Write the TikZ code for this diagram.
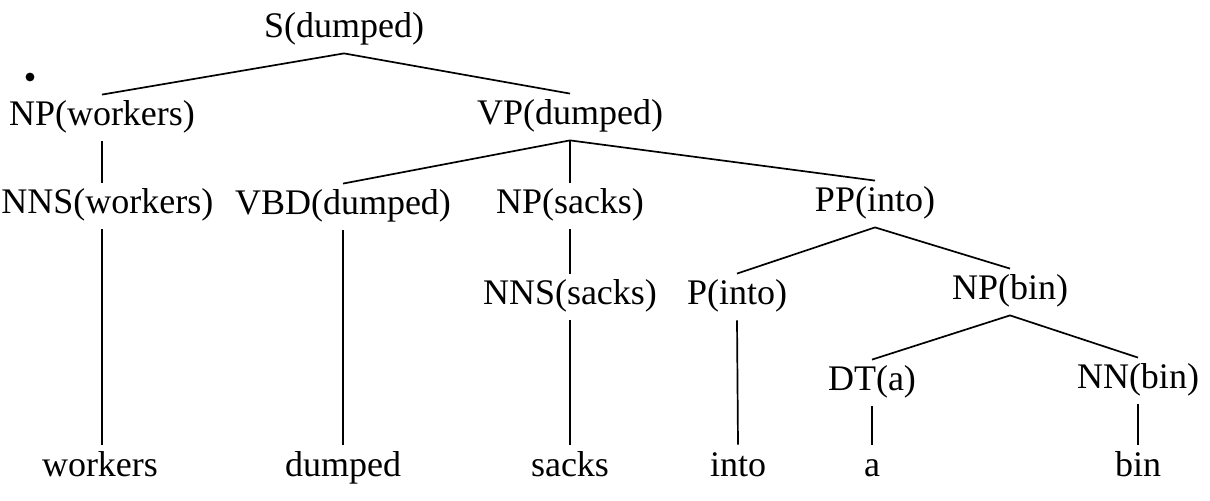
\documentclass[tikz,border=0pt]{standalone}
\usepackage{fontspec}
\setmainfont{Liberation Serif}
\usetikzlibrary{positioning}

\begin{document}
\begin{tikzpicture}[
    x=0.5pt, y=-0.5pt,
    lbl/.style={inner sep=0pt, anchor=base, font=\fontsize{18}{21}\selectfont, text height=15.5pt, text depth=7.5pt},
    word/.style={lbl, text height=16pt, text depth=0pt},
    br/.style={line width=0.85pt}
]
    \useasboundingbox (0,0) rectangle (1210,501);

    % stray dot of the scan
    \fill (30,77) circle (2.2pt);

    \node[lbl] (s) at (344,38) {S(dumped)};
    \node[lbl] (npw) at (102,126) {NP(workers)};
    \node[lbl] (vp) at (570,125) {VP(dumped)};
    \node[lbl, anchor=base west] (nnsw) at (1,214) {NNS(workers)};
    \node[lbl] (vbd) at (343,215) {VBD(dumped)};
    \node[lbl] (nps) at (570,214) {NP(sacks)};
    \node[lbl] (pp) at (875,212) {PP(into)};
    \node[lbl] (nnss) at (570,305) {NNS(sacks)};
    \node[lbl] (pin) at (737,305) {P(into)};
    \node[lbl] (npb) at (1010,300) {NP(bin)};
    \node[lbl] (dt) at (872,391) {DT(a)};
    \node[lbl] (nn) at (1138,389) {NN(bin)};

    \node[word] (wworkers) at (100,477) {workers};
    \node[word] (wdumped) at (343,477) {dumped};
    \node[word] (wsacks) at (570,477) {sacks};
    \node[word] (winto) at (738,477) {into};
    \node[word] (wa) at (872,477) {a};
    \node[word] (wbin) at (1138,477) {bin};

    \draw[br] (s.south) -- (npw.north);
    \draw[br] (s.south) -- (vp.north);
    \draw[br] (npw.south) -- (nnsw.north -| npw.south);
    \draw[br] (nnsw.south -| npw.south) -- (wworkers.north -| npw.south);
    \draw[br] (vp.south) -- (vbd.north);
    \draw[br] (vp.south) -- (nps.north);
    \draw[br] (vp.south) -- (pp.north);
    \draw[br] (vbd.south) -- (wdumped.north);
    \draw[br] (nps.south) -- (nnss.north);
    \draw[br] (nnss.south) -- (wsacks.north);
    \draw[br] (pp.south) -- (pin.north);
    \draw[br] (pp.south) -- (npb.north);
    \draw[br] (pin.south) -- (winto.north);
    \draw[br] (npb.south) -- (dt.north);
    \draw[br] (npb.south) -- (nn.north);
    \draw[br] (dt.south) -- (wa.north);
    \draw[br] (nn.south) -- (wbin.north);
\end{tikzpicture}
\end{document}
